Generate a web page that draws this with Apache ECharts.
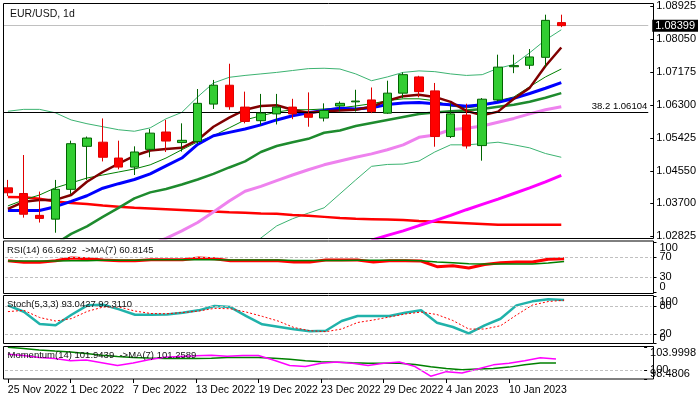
<!DOCTYPE html>
<html><head><meta charset="utf-8">
<script src="https://cdn.jsdelivr.net/npm/echarts@6/dist/echarts.min.js"></script>
<style>html,body{margin:0;padding:0;background:#fff}#c{width:699px;height:399px}</style>
</head><body><div id="c"></div><script>
// ---------- data ----------
const dates = ['25 Nov 2022','28 Nov 2022','29 Nov 2022','30 Nov 2022','1 Dec 2022','2 Dec 2022','5 Dec 2022','6 Dec 2022','7 Dec 2022','8 Dec 2022','9 Dec 2022','12 Dec 2022','13 Dec 2022','14 Dec 2022','15 Dec 2022','16 Dec 2022','19 Dec 2022','20 Dec 2022','21 Dec 2022','22 Dec 2022','23 Dec 2022','26 Dec 2022','27 Dec 2022','28 Dec 2022','29 Dec 2022','30 Dec 2022','2 Jan 2023','3 Jan 2023','4 Jan 2023','5 Jan 2023','6 Jan 2023','9 Jan 2023','10 Jan 2023','11 Jan 2023','12 Jan 2023','13 Jan 2023'];
const opens  = [1.0410,1.0395,1.0337,1.0327,1.0406,1.0520,1.0531,1.0489,1.0465,1.0512,1.0558,1.0530,1.0533,1.0632,1.0682,1.0624,1.0588,1.0606,1.0624,1.0606,1.0595,1.0627,1.0638,1.0643,1.0608,1.0661,1.0704,1.0667,1.0546,1.0603,1.0522,1.0643,1.0731,1.0735,1.0756,1.0848];
const closes = [1.0397,1.0340,1.0329,1.0406,1.0527,1.0542,1.0491,1.0465,1.0505,1.0555,1.0534,1.0536,1.0634,1.0682,1.0625,1.0586,1.0608,1.0624,1.0606,1.0597,1.0615,1.0634,1.0640,1.0612,1.0661,1.0710,1.0665,1.0546,1.0606,1.0521,1.0645,1.0730,1.0734,1.0757,1.0854,1.0840];
const lows   = [1.0388,1.0331,1.0318,1.0291,1.0394,1.0431,1.0480,1.0459,1.0444,1.0491,1.0505,1.0506,1.0527,1.0619,1.0617,1.0581,1.0576,1.0578,1.0592,1.0572,1.0586,1.0613,1.0612,1.0608,1.0606,1.0648,1.0650,1.0519,1.0542,1.0514,1.0482,1.0639,1.0714,1.0725,1.0730,1.0836];
const highs  = [1.0431,1.0497,1.0400,1.0431,1.0535,1.0546,1.0594,1.0535,1.0520,1.0566,1.0590,1.0581,1.0672,1.0696,1.0739,1.0665,1.0659,1.0659,1.0646,1.0663,1.0634,1.0639,1.0670,1.0676,1.0694,1.0716,1.0707,1.0688,1.0634,1.0633,1.0648,1.0763,1.0763,1.0778,1.0869,1.0869];

const maFast   = [1.0354,1.0373,1.0378,1.0378,1.0391,1.0426,1.0452,1.0474,1.0495,1.0509,1.0513,1.0516,1.0537,1.0572,1.0596,1.0617,1.0627,1.0629,1.0617,1.0609,1.0613,1.0615,1.0617,1.0625,1.0641,1.0653,1.0657,1.0651,1.0638,1.0614,1.0602,1.0612,1.0646,1.0675,1.0733,1.0782];
const maBlue   = [1.0350,1.0350,1.0350,1.0360,1.0374,1.0389,1.0409,1.0421,1.0432,1.0447,1.0468,1.0489,1.0525,1.0548,1.0557,1.0566,1.0577,1.0590,1.0601,1.0609,1.0615,1.0621,1.0619,1.0622,1.0631,1.0635,1.0636,1.0633,1.0630,1.0626,1.0630,1.0637,1.0647,1.0660,1.0674,1.0689];
const maThinGreen = [1.0362,1.0378,1.0391,1.0410,1.0423,1.0436,1.0444,1.0452,1.0460,1.0471,1.0489,1.0511,1.0532,1.0548,1.0569,1.0590,1.0601,1.0611,1.0617,1.0617,1.0619,1.0622,1.0627,1.0633,1.0641,1.0646,1.0646,1.0641,1.0627,1.0622,1.0627,1.0641,1.0651,1.0678,1.0704,1.0725];
const maGreen  = [null,null,null,1.0261,1.0288,1.0308,1.0333,1.0357,1.0382,1.0398,1.0407,1.0419,1.0432,1.0447,1.0464,1.0480,1.0505,1.0521,1.0531,1.0540,1.0556,1.0562,1.0574,1.0582,1.0590,1.0598,1.0606,1.0610,1.0613,1.0615,1.0619,1.0625,1.0630,1.0638,1.0649,1.0661];
const bbUpper  = [1.0613,1.0618,1.0618,1.0609,1.0590,1.0580,1.0572,1.0564,1.0560,1.0569,1.0593,1.0610,1.0651,1.0688,1.0703,1.0708,1.0712,1.0716,1.0721,1.0726,1.0727,1.0725,1.0712,1.0694,1.0704,1.0716,1.0720,1.0718,1.0712,1.0708,1.0710,1.0727,1.0737,1.0768,1.0802,1.0829];
const bbLower  = [null,null,null,null,null,null,null,null,null,null,null,null,null,null,null,1.0245,1.0277,1.0309,1.0328,1.0343,1.0357,1.0394,1.0431,1.0467,1.0472,1.0473,1.0481,1.0505,1.0524,1.0524,1.0527,1.0531,1.0524,1.0516,1.0501,1.0491];
const maViolet = [null,null,null,null,null,null,null,null,null,1.0259,1.0276,1.0296,1.0318,1.0346,1.0375,1.0401,1.0414,1.0429,1.0444,1.0458,1.0471,1.0481,1.0491,1.0500,1.0511,1.0524,1.0544,1.0550,1.0564,1.0568,1.0574,1.0584,1.0594,1.0606,1.0617,1.0625];
const maMagenta= [null,null,null,null,null,null,null,null,null,null,null,null,null,null,null,null,null,null,null,null,null,null,null,1.0271,1.0284,1.0296,1.0310,1.0323,1.0337,1.0352,1.0366,1.0380,1.0395,1.0410,1.0426,1.0443];
const maRed    = [1.0386,1.0385,1.0381,1.0374,1.0370,1.0367,1.0363,1.0360,1.0357,1.0355,1.0353,1.0351,1.0349,1.0347,1.0345,1.0344,1.0342,1.0341,1.0338,1.0336,1.0333,1.0330,1.0328,1.0327,1.0326,1.0325,1.0322,1.0320,1.0318,1.0316,1.0314,1.0312,1.0312,1.0312,1.0312,1.0312];

const rsi   = [62.6,59.3,59.3,62.6,68,66.7,64,62.6,62.6,64.7,64.7,64.7,68,66.7,62.6,62.6,62.6,62.6,60,60,64,64,64,60,62.6,62.6,62,50.7,52.7,48,55,58.7,60,60,65.3,66.63];
const rsiMA = [62,62,62,62,62.5,62.5,63.5,63.5,63.5,64.5,64.5,64.5,64.5,64.5,64,64,64,64,63,63,63,63,63.5,63.5,63.5,63.5,62.6,60,58.7,56.7,56,56,56,56,58,60.81];
const stochK = [81.4,67.7,41.4,38.6,61.3,81.4,82.7,72.8,61.3,61.3,62,65.6,70.7,80,77.8,58.5,40.7,35.6,30,25.7,27,47.8,58.5,58.5,58.5,65.6,70.7,44.1,35,21.4,38.6,52.7,81.4,90,94.3,93.04];
const stochD = [68,70.7,55.3,47.8,53,68.6,77.8,77.8,69.2,63.9,63.4,66,69.2,75,74.1,67,57.9,47.8,33.9,27,24.9,30.6,44.6,50,56.4,62.8,67,61.7,48.9,30.6,30.6,37.7,60.6,82,89.6,92.31];
const mom   = [102.75,102.53,102.2,102.0,101.63,101.75,101.3,100.8,101.25,101.8,102.25,102.37,102.47,102.58,102.42,102.53,102.53,101.7,100.8,100.63,101.2,101.42,101.2,100.8,101.2,101.42,100.63,98.97,99.75,99.53,100.2,100.92,101.2,101.63,102.13,101.94];
const momMA = [103.95,103.75,103.5,103.3,103.13,102.87,102.58,102.38,102.2,102.1,102.03,102.03,102.03,102.08,102.17,102.2,102.2,102.08,101.87,101.63,101.47,101.38,101.28,101.2,101.2,101.2,100.97,100.58,100.3,100.08,100.2,100.3,100.53,100.92,101.25,101.26];

const priceTicks = [1.02825,1.03700,1.04550,1.05425,1.06300,1.07175,1.08050,1.08925];
const rsiRange = [0, 100];
const stochRange = [0, 100];
const momRange = [98.4806, 103.9998];
const rsiLevels = [70,30];
const stochLevels = [80,20];
const momLevel = 100;
const currentPrice = 1.08399;
const fibLevel = 1.06104;
const fibName = '38.2';

const titleText = 'EUR/USD, 1d';
const rsiText = 'RSI(14) 66.6292  ->MA(7) 60.8145';
const stochText = 'Stoch(5,3,3) 93.0427 92.3110';
const momText = 'Momentum(14) 101.9439  ->MA(7) 101.2589';

// ---------- chart ----------
const FONT = '"Liberation Sans", Arial, sans-serif';
const padCats = ['f1','f2','f3','f4','f5'];
const cats = dates.concat(padCats);
const showIdx = (i) => i % 4 === 0 && i < dates.length;

const gridL = -4.5, gridW = 656;
const grids = [
  {left: gridL, width: gridW, top: 3, height: 235},
  {left: gridL, width: gridW, top: 242, height: 50},
  {left: gridL, width: gridW, top: 296.7, height: 46.6},
  {left: gridL, width: gridW, top: 347, height: 32}
];

function xa(gi, show) {
  return {
    type: 'category', gridIndex: gi, data: cats, boundaryGap: true,
    axisLine: {show: false},
    axisTick: {show: show, alignWithLabel: true, interval: showIdx, length: 4, lineStyle: {color: '#000'}},
    axisLabel: {show: show, interval: showIdx, align: 'left', margin: 6, color: '#000', fontFamily: FONT, fontSize: 10.5},
    splitLine: {show: false}
  };
}
function ya(gi, range, ticks, fmt, clampEnds) {
  const lab = {customValues: ticks, formatter: fmt, margin: 6, color: '#000', fontFamily: FONT, fontSize: 11,
               showMinLabel: true, showMaxLabel: true, hideOverlap: false};
  if (clampEnds) { lab.verticalAlignMaxLabel = 'top'; lab.verticalAlignMinLabel = 'bottom'; }
  return {
    type: 'value', gridIndex: gi, position: 'right', offset: 2, min: range[0], max: range[1],
    axisLine: {show: false},
    axisTick: {show: true, length: 3, customValues: ticks, lineStyle: {color: '#000'}},
    axisLabel: lab,
    splitLine: {show: false}
  };
}

const levelStyle = {color: '#c0c0c0', type: [3, 2], width: 1};
function levels(vals) {
  return {silent: true, symbol: ['none','none'], precision: 5, label: {show: false}, lineStyle: levelStyle,
          data: vals.map(v => ({yAxis: v}))};
}
function line(name, data, color, width, xi, yi, z, type) {
  return {name: name, type: 'line', xAxisIndex: xi, yAxisIndex: yi, data: data, showSymbol: false, symbol: 'none',
          lineStyle: {color: color, width: width, type: type || 'solid'}, z: z || 2, clip: true, connectNulls: false,
          emphasis: {disabled: true}};
}

const candleData = opens.map((o, i) => [o, closes[i], lows[i], highs[i]]);

const priceMarks = {
  silent: true, symbol: ['none','none'], precision: 5,
  data: [
    {yAxis: currentPrice, lineStyle: {color: '#c0c0c0', width: 1, type: 'solid'},
     label: {show: true, position: 'end', distance: 4, formatter: currentPrice.toFixed(5), color: '#fff', backgroundColor: '#000',
             padding: [1, 3, 0, 3], fontFamily: FONT, fontSize: 11}},
    {yAxis: fibLevel, lineStyle: {color: '#000', width: 1, type: 'solid'},
     label: {show: true, position: 'insideEndTop', distance: 1, formatter: fibName + ' ' + fibLevel.toFixed(5), color: '#000',
             fontFamily: FONT, fontSize: 9.5}}
  ]
};

const series = [
  line('bbUpper', bbUpper, '#3CB371', 1, 0, 0, 2),
  line('bbLower', bbLower, '#3CB371', 1, 0, 0, 2),
  Object.assign(line('maRed', maRed, '#FF0000', 2.5, 0, 0, 2), {markLine: priceMarks}),
  line('maMagenta', maMagenta, '#FF00FF', 3, 0, 0, 2),
  line('maViolet', maViolet, '#EE82EE', 3, 0, 0, 2),
  line('maGreen', maGreen, '#1e8b2e', 2.5, 0, 0, 3),
  line('maThinGreen', maThinGreen, '#008000', 1, 0, 0, 3),
  line('maBlue', maBlue, '#0000FF', 3, 0, 0, 3),
  line('maFast', maFast, '#800000', 2.5, 0, 0, 3),
  {
    name: 'EURUSD', type: 'candlestick', xAxisIndex: 0, yAxisIndex: 0, data: candleData, barWidth: 9, z: 5,
    itemStyle: {color: '#32CD32', color0: '#FF0000', borderColor: '#006400', borderColor0: '#E00000', borderWidth: 1},
    emphasis: {disabled: true}
  },
  Object.assign(line('rsiMA', rsiMA, '#008000', 1.5, 1, 1, 3), {markLine: levels(rsiLevels)}),
  line('rsi', rsi, '#FF0000', 3, 1, 1, 2),
  Object.assign(line('stochK', stochK, '#20B2AA', 2.5, 2, 3, 2), {markLine: levels(stochLevels)}),
  line('stochD', stochD, '#FF0000', 1, 2, 3, 3, [2, 2]),
  Object.assign(line('momMA', momMA, '#008000', 1.5, 3, 5, 2), {markLine: levels([momLevel])}),
  line('mom', mom, '#FF00FF', 1.5, 3, 5, 3)
];

const frames = [[3, 3, 650, 235], [3, 240.5, 650, 52.5], [3, 295, 650, 48], [3, 346, 650, 32.5]];
const graphic = [
  {type: 'rect', silent: true, z: 100, shape: {x: 0, y: 0, width: 3, height: 399}, style: {fill: '#fff'}}
].concat(frames.map(f => ({type: 'rect', silent: true, z: 101,
  shape: {x: f[0] + 0.5, y: f[1] + 0.5, width: f[2], height: f[3]}, style: {fill: 'none', stroke: '#000', lineWidth: 1}})))
 .concat([
  [titleText, 10, 14, 10.5], [rsiText, 7, 250.7, 9.5], [stochText, 7, 304.7, 9.5], [momText, 7.5, 355.7, 9.5]
 ].map(t => ({type: 'text', silent: true, z: 102, x: t[1], y: t[2],
   style: {text: t[0], fill: '#111', font: t[3] + 'px ' + FONT, verticalAlign: 'middle', textVerticalAlign: 'middle'}})));

const intFmt = v => String(v);
const momFmt = v => (v === momLevel ? String(v) : v.toFixed(4));

const option = {
  animation: false,
  backgroundColor: '#fff',
  grid: grids,
  xAxis: [xa(0, false), xa(1, false), xa(2, false), xa(3, true)],
  yAxis: [
    ya(0, [1.0277, 1.0900], priceTicks, v => v.toFixed(5), false),
    ya(1, rsiRange, rsiLevels, intFmt, false),
    ya(1, rsiRange, rsiRange, intFmt, true),
    ya(2, stochRange, stochLevels, intFmt, false),
    ya(2, stochRange, stochRange, intFmt, true),
    ya(3, momRange, [momLevel], momFmt, false),
    ya(3, momRange, momRange, momFmt, true)
  ],
  series: series,
  graphic: graphic
};

const chart = echarts.init(document.getElementById('c'), null, {renderer: 'canvas', width: 699, height: 399});
chart.setOption(option);
</script></body></html>
